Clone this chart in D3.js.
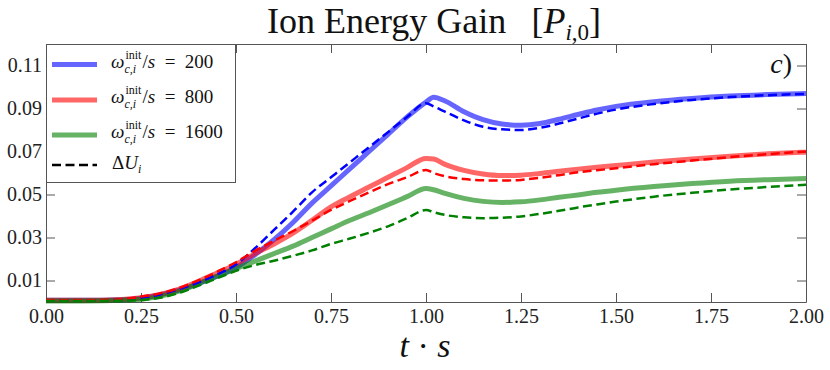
<!DOCTYPE html>
<html lang="en">
<head>
  <meta charset="UTF-8">
  <title>Ion Energy Gain</title>
  <script src="https://d3js.org/d3.v7.min.js"></script>
  <style>
    body { margin: 0; background: #fff; }
    svg text { font-family: "Liberation Serif", "DejaVu Serif", serif; }
    .axis path, .axis line { stroke: #555; }
  </style>
</head>
<body>
  <svg id="chart" width="830" height="370"></svg>
  <script>
    // time samples (t * s) shared by all curves
    const times = [0, 0.1, 0.2, 0.25, 0.3, 0.35, 0.4, 0.45, 0.5, 0.55, 0.6, 0.65, 0.7, 0.75, 0.8, 0.85, 0.9, 0.95, 1.0, 1.02, 1.05, 1.1, 1.15, 1.2, 1.25, 1.3, 1.35, 1.4, 1.45, 1.5, 1.6, 1.7, 1.8, 1.9, 2.0];

    // energy gain, solid curves
    const gain200 = [0.0008, 0.0008, 0.0011, 0.0018, 0.0033, 0.0055, 0.0085, 0.012, 0.016, 0.022, 0.029, 0.037, 0.046, 0.054, 0.062, 0.070, 0.078, 0.086, 0.093, 0.0952, 0.0935, 0.0885, 0.0848, 0.0828, 0.0822, 0.0830, 0.0850, 0.0872, 0.0893, 0.0910, 0.0932, 0.0947, 0.0958, 0.0965, 0.0970];
    const gain800 = [0.0008, 0.0008, 0.0012, 0.002, 0.0035, 0.006, 0.0095, 0.0135, 0.0175, 0.0225, 0.027, 0.032, 0.038, 0.0443, 0.049, 0.0535, 0.058, 0.0625, 0.0668, 0.0665, 0.0640, 0.0612, 0.0595, 0.0588, 0.0590, 0.0598, 0.0608, 0.0618, 0.0627, 0.0635, 0.0651, 0.0665, 0.0678, 0.0689, 0.0697];
    const gain1600 = [0.0005, 0.0005, 0.0008, 0.0013, 0.0026, 0.005, 0.0085, 0.012, 0.0155, 0.019, 0.0225, 0.026, 0.030, 0.034, 0.038, 0.0415, 0.0452, 0.049, 0.0528, 0.0522, 0.0505, 0.0482, 0.0468, 0.0463, 0.0466, 0.0475, 0.0487, 0.0498, 0.0510, 0.0520, 0.0537, 0.0551, 0.0562, 0.0569, 0.0574];

    // Delta U_i, dashed curves
    const dU200 = [0.0008, 0.0008, 0.0012, 0.002, 0.0035, 0.006, 0.009, 0.0128, 0.0175, 0.025, 0.0335, 0.042, 0.051, 0.058, 0.065, 0.072, 0.079, 0.086, 0.0925, 0.091, 0.0885, 0.0845, 0.0815, 0.0803, 0.080, 0.0810, 0.0830, 0.0853, 0.0876, 0.0895, 0.0921, 0.094, 0.0953, 0.0962, 0.0968];
    const dU800 = [0.0008, 0.0008, 0.0013, 0.0025, 0.004, 0.0065, 0.0100, 0.0140, 0.0185, 0.0238, 0.0285, 0.0330, 0.0378, 0.0428, 0.0470, 0.0510, 0.0548, 0.0580, 0.0614, 0.0600, 0.0585, 0.0572, 0.0566, 0.0565, 0.0568, 0.0578, 0.0590, 0.0603, 0.0613, 0.0622, 0.0641, 0.0658, 0.0674, 0.0688, 0.0700];
    const dU1600 = [0.0005, 0.0005, 0.0006, 0.0009, 0.002, 0.0042, 0.0075, 0.011, 0.0145, 0.0172, 0.0192, 0.0215, 0.0240, 0.0270, 0.0295, 0.0322, 0.0352, 0.0390, 0.0428, 0.0418, 0.0405, 0.0394, 0.0390, 0.0392, 0.0398, 0.0410, 0.0424, 0.0440, 0.0454, 0.0467, 0.0490, 0.0508, 0.0523, 0.0535, 0.0545];

    const omegaLabels = ["200", "800", "1600"];
    const xTicks = [0, 0.25, 0.5, 0.75, 1.0, 1.25, 1.5, 1.75, 2.0];
    const yTicks = [0.01, 0.03, 0.05, 0.07, 0.09, 0.11];

    const solidColors = ["rgba(0,0,255,0.6)", "rgba(255,0,0,0.6)", "rgba(0,128,0,0.6)"];
    const dashColors = ["#0000ff", "#ff0000", "#008000"];

    const margin = { top: 44, right: 24, bottom: 68, left: 46 };
    const width = 830 - margin.left - margin.right;
    const height = 370 - margin.top - margin.bottom;

    const svg = d3.select("#chart");
    const g = svg.append("g").attr("transform", `translate(${margin.left},${margin.top})`);

    const x = d3.scaleLinear().domain([0, 2]).range([0, width]);
    const y = d3.scaleLinear().domain([0, 0.12]).range([height, 0]);

    // axes with inward ticks on all four sides
    const xAxis = g.append("g").attr("class", "axis")
      .attr("transform", `translate(0,${height})`)
      .call(d3.axisBottom(x).tickValues(xTicks).tickFormat(d3.format(".2f")).tickSizeInner(-9).tickSizeOuter(0).tickPadding(7));
    const yAxis = g.append("g").attr("class", "axis")
      .call(d3.axisLeft(y).tickValues(yTicks).tickFormat(d3.format(".2f")).tickSizeInner(-9).tickSizeOuter(0).tickPadding(4));
    g.append("g").attr("class", "axis")
      .call(d3.axisTop(x).tickValues(xTicks).tickFormat("").tickSizeInner(-9).tickSizeOuter(0));
    g.append("g").attr("class", "axis")
      .attr("transform", `translate(${width},0)`)
      .call(d3.axisRight(y).tickValues(yTicks).tickFormat("").tickSizeInner(-9).tickSizeOuter(0));

    [xAxis, yAxis].forEach(a => a.attr("font-family", null).attr("font-size", 20)
      .selectAll("text").attr("fill", "#222"));

    const line = d3.line()
      .x((d, i) => x(times[i]))
      .y(d => y(d))
      .curve(d3.curveMonotoneX);

    const solids = [gain200, gain800, gain1600];
    const dashes = [dU200, dU800, dU1600];

    g.selectAll(".solid")
      .data(solids)
      .enter().append("path")
      .attr("class", "solid")
      .attr("d", line)
      .attr("fill", "none")
      .attr("stroke", (d, i) => solidColors[i])
      .attr("stroke-width", 5);

    g.selectAll(".dash")
      .data(dashes)
      .enter().append("path")
      .attr("class", "dash")
      .attr("d", line)
      .attr("fill", "none")
      .attr("stroke", (d, i) => dashColors[i])
      .attr("stroke-width", 2.5)
      .attr("stroke-dasharray", "9,4.5");

    // title
    const title = svg.append("text")
      .attr("x", 434).attr("y", 33)
      .attr("text-anchor", "middle")
      .attr("font-size", 36)
      .attr("fill", "#111");
    title.append("tspan").text("Ion Energy Gain\u2002\u2009[");
    title.append("tspan").attr("font-style", "italic").text("P");
    title.append("tspan").attr("font-size", 23).attr("font-style", "italic").attr("dy", 7).text("i");
    title.append("tspan").attr("font-size", 23).text(",0");
    title.append("tspan").attr("dy", -7).text("]");

    // x label
    const xl = svg.append("text")
      .attr("x", 425).attr("y", 357)
      .attr("text-anchor", "middle")
      .attr("font-size", 34)
      .attr("fill", "#111");
    xl.append("tspan").attr("font-style", "italic").text("t");
    xl.append("tspan").text(" \u00b7 ");
    xl.append("tspan").attr("font-style", "italic").text("s");

    // panel tag
    svg.append("text")
      .attr("x", 792).attr("y", 73)
      .attr("text-anchor", "end")
      .attr("font-size", 28)
      .attr("fill", "#111")
      .html('<tspan font-style="italic">c</tspan>)');

    // legend
    const leg = svg.append("g");
    leg.append("rect")
      .attr("x", 46.5).attr("y", 44.5)
      .attr("width", 189).attr("height", 138)
      .attr("fill", "#fff")
      .attr("stroke", "#555");

    const rowY = [64.5, 100, 135, 165];

    omegaLabels.forEach((lab, i) => {
      leg.append("line")
        .attr("x1", 52).attr("x2", 97)
        .attr("y1", rowY[i]).attr("y2", rowY[i])
        .attr("stroke", solidColors[i]).attr("stroke-width", 5);

      const by = rowY[i] + 3;
      const tx = 111;
      const om = leg.append("text")
        .attr("x", tx).attr("y", by)
        .attr("font-size", 19).attr("font-style", "italic").attr("fill", "#111")
        .text("\u03c9");
      const ow = om.node().getComputedTextLength();
      const sup = leg.append("text")
        .attr("x", tx + ow + 1).attr("y", by - 9)
        .attr("font-size", 12).attr("fill", "#111")
        .text("init");
      const sub = leg.append("text")
        .attr("x", tx + ow).attr("y", by + 5)
        .attr("font-size", 12).attr("font-style", "italic").attr("fill", "#111")
        .text("c,i");
      const sw = Math.max(sup.node().getComputedTextLength(), sub.node().getComputedTextLength());
      const rest = leg.append("text")
        .attr("x", tx + ow + sw + 2).attr("y", by)
        .attr("font-size", 19).attr("fill", "#111");
      rest.append("tspan").text("/");
      rest.append("tspan").attr("font-style", "italic").text("s");
      rest.append("tspan").text("\u2002=\u2002" + lab);
    });

    leg.append("line")
      .attr("x1", 52).attr("x2", 97)
      .attr("y1", rowY[3]).attr("y2", rowY[3])
      .attr("stroke", "#000").attr("stroke-width", 2.5)
      .attr("stroke-dasharray", "9,4.5");
    const du = leg.append("text")
      .attr("x", 112).attr("y", rowY[3] + 3.5)
      .attr("font-size", 19).attr("fill", "#111");
    du.append("tspan").text("\u0394");
    du.append("tspan").attr("font-style", "italic").text("U");
    du.append("tspan").attr("font-size", 12).attr("font-style", "italic").attr("dy", 4).text("i");
  </script>
</body>
</html>
